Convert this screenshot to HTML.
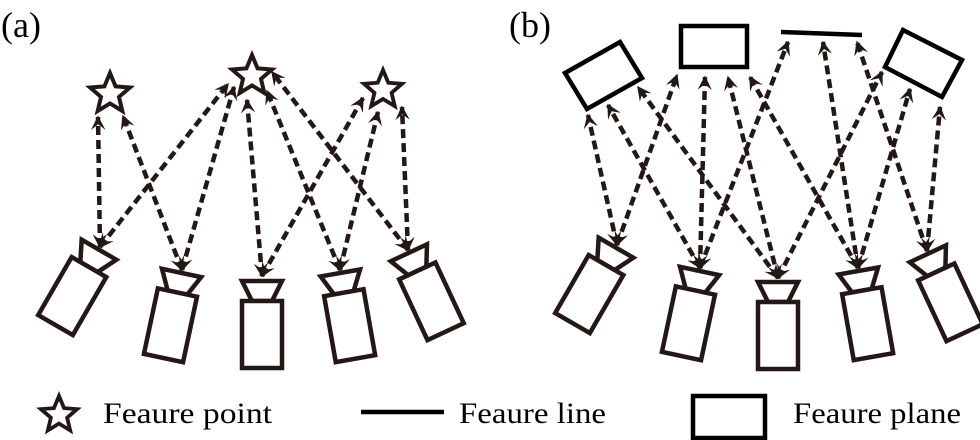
<!DOCTYPE html>
<html><head><meta charset="utf-8"><style>html,body{margin:0;padding:0;background:#fff}svg{display:block}</style></head>
<body>
<svg width="980" height="440" viewBox="0 0 980 440" xmlns="http://www.w3.org/2000/svg">
<defs>
<marker id="ah" viewBox="0 0 10 10" refX="9" refY="5" markerWidth="3.2" markerHeight="3.2" orient="auto-start-reverse" markerUnits="strokeWidth">
<path d="M0,0 L10,5 L0,10 L4,5 z" fill="#231815"/>
</marker>
<path id="star" d="M0,-1 L0.265,-0.364 L0.951,-0.309 L0.428,0.139 L0.588,0.809 L0,0.45 L-0.588,0.809 L-0.428,0.139 L-0.951,-0.309 L-0.265,-0.364 Z"/>
<g id="cam" fill="#fff" stroke="#231815" stroke-width="4.5" stroke-linejoin="miter">
<polygon points="-20,2 20,2 10,22 -10,22"/>
<rect x="-20" y="22" width="40" height="67"/>
</g>
</defs>
<g font-family="'Liberation Serif', serif" fill="#000">
<text x="1" y="37" font-size="36">(a)</text>
<text x="509" y="37" font-size="36">(b)</text>
</g>
<g stroke="#231815" stroke-width="4.5" stroke-dasharray="9 5" fill="none" marker-start="url(#ah)" marker-end="url(#ah)">
<!-- (a) -->
<line x1="100" y1="247" x2="98" y2="117"/>
<line x1="100" y1="247" x2="228" y2="84"/>
<line x1="182" y1="270" x2="123" y2="116"/>
<line x1="182" y1="270" x2="234" y2="87"/>
<line x1="262" y1="276" x2="247" y2="100"/>
<line x1="262" y1="276" x2="363" y2="98"/>
<line x1="340" y1="270" x2="267" y2="91"/>
<line x1="340" y1="270" x2="378" y2="112"/>
<line x1="408" y1="250" x2="272" y2="72"/>
<line x1="408" y1="250" x2="402" y2="107"/>
<!-- (b) -->
<line x1="617" y1="245" x2="588" y2="115"/>
<line x1="617" y1="245" x2="677" y2="75"/>
<line x1="700" y1="268" x2="608" y2="105"/>
<line x1="700" y1="268" x2="705" y2="77"/>
<line x1="700" y1="268" x2="788" y2="42"/>
<line x1="778" y1="278" x2="638" y2="87"/>
<line x1="778" y1="278" x2="728" y2="77"/>
<line x1="778" y1="278" x2="882" y2="72"/>
<line x1="858" y1="268" x2="750" y2="77"/>
<line x1="858" y1="268" x2="823" y2="42"/>
<line x1="858" y1="268" x2="910" y2="89"/>
<line x1="927" y1="251" x2="857" y2="42"/>
<line x1="927" y1="251" x2="940" y2="107"/>
</g>
<g fill="#fff" stroke="#231815">
<use href="#star" transform="translate(110,94) scale(21)" stroke-width="0.19"/>
<use href="#star" transform="translate(252,76) scale(21)" stroke-width="0.19"/>
<use href="#star" transform="translate(383,90) scale(20)" stroke-width="0.19"/>
</g>
<use href="#cam" transform="translate(100,248) rotate(30)"/>
<use href="#cam" transform="translate(182,271) rotate(12)"/>
<use href="#cam" transform="translate(262,279)"/>
<use href="#cam" transform="translate(340,271) rotate(-10)"/>
<use href="#cam" transform="translate(408,251) rotate(-25)"/>
<use href="#cam" transform="translate(617,246) rotate(30)"/>
<use href="#cam" transform="translate(700,269) rotate(12)"/>
<use href="#cam" transform="translate(778,280)"/>
<use href="#cam" transform="translate(858,269) rotate(-10)"/>
<use href="#cam" transform="translate(927,252) rotate(-25)"/>
<g fill="#fff" stroke="#000" stroke-width="4.5">
<polygon points="565,73 620,42 642,78 587,109"/>
<rect x="681" y="26" width="66" height="41"/>
<line x1="781" y1="32" x2="862" y2="35"/>
<polygon points="885,67 903,30 962,60 942,97"/>
</g>
<!-- legend -->
<use href="#star" transform="translate(59,415) scale(19)" fill="#fff" stroke="#231815" stroke-width="0.2"/>
<line x1="361" y1="412" x2="444" y2="412" stroke="#000" stroke-width="4.5"/>
<rect x="693" y="396" width="72" height="42" fill="#fff" stroke="#000" stroke-width="4.5"/>
<g font-family="'Liberation Serif', serif" font-size="30" fill="#000">
<text x="103" y="423" textLength="169" lengthAdjust="spacingAndGlyphs">Feaure point</text>
<text x="459" y="423" textLength="147" lengthAdjust="spacingAndGlyphs">Feaure line</text>
<text x="793" y="423" textLength="168" lengthAdjust="spacingAndGlyphs">Feaure plane</text>
</g>
</svg>
</body></html>
